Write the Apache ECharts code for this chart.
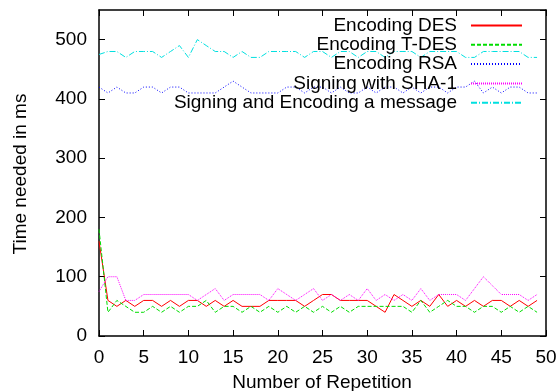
<!DOCTYPE html>
<html>
<head>
<meta charset="utf-8">
<script src="https://cdn.jsdelivr.net/npm/echarts@6/dist/echarts.min.js"></script>
<style>
  html, body { margin: 0; padding: 0; background: #fff; }
  #chart { width: 560px; height: 391px; }
</style>
</head>
<body>
<div id="chart"></div>
<script>
// Repetition index on the x axis
const repetitions = [0, 1, 2, 3, 4, 5, 6, 7, 8, 9, 10, 11, 12, 13, 14, 15, 16, 17, 18, 19,
  20, 21, 22, 23, 24, 25, 26, 27, 28, 29, 30, 31, 32, 33, 34, 35, 36, 37, 38, 39,
  40, 41, 42, 43, 44, 45, 46, 47, 48, 49];

// Measured times in ms for each operation
const desTimes = [160, 60, 50, 60, 50, 60, 60, 50, 60, 50, 60, 60, 50, 60, 50, 60, 50, 50, 50, 60,
  60, 60, 60, 50, 60, 70, 70, 60, 60, 60, 60, 50, 40, 70, 60, 50, 60, 50, 70, 50,
  60, 50, 60, 50, 60, 60, 50, 60, 50, 60];
const tdesTimes = [180, 40, 60, 50, 40, 40, 50, 40, 50, 40, 50, 50, 60, 40, 50, 50, 40, 50, 40, 50,
  40, 50, 40, 50, 40, 50, 40, 50, 40, 50, 50, 50, 50, 50, 50, 40, 60, 40, 50, 60,
  50, 50, 40, 50, 50, 40, 50, 40, 50, 40];
const rsaTimes = [420, 410, 420, 410, 410, 420, 420, 410, 420, 420, 410, 410, 410, 410, 420, 430, 420, 410, 410, 410,
  410, 420, 420, 410, 420, 420, 410, 420, 410, 410, 420, 410, 420, 420, 410, 420, 410, 420, 420, 410,
  420, 420, 430, 410, 420, 410, 420, 420, 410, 410];
const shaTimes = [75, 100, 100, 60, 60, 70, 70, 70, 70, 70, 70, 60, 70, 80, 60, 70, 70, 70, 70, 60,
  80, 70, 60, 70, 80, 60, 70, 60, 70, 60, 80, 60, 70, 60, 70, 60, 80, 60, 70, 70,
  70, 60, 80, 100, 85, 70, 70, 70, 60, 70];
const messageTimes = [475, 480, 480, 470, 480, 480, 480, 470, 480, 490, 470, 500, 490, 480, 480, 470, 480, 470, 470, 480,
  480, 480, 480, 470, 480, 480, 470, 480, 480, 470, 480, 480, 470, 480, 480, 480, 470, 480, 480, 480,
  480, 470, 470, 480, 480, 480, 480, 480, 470, 470];

// Axis ticks
const xTicks = { min: 0, max: 50, step: 5 };
const yTicks = { min: 0, max: 550, step: 100 };

const FONT = '"Liberation Sans", Arial, sans-serif';
const FS = 19;

function pairs(values) {
  return repetitions.map((r, k) => [r, values[k]]);
}

const frame = { show: true, onZero: false, lineStyle: { color: '#000', width: 1.5 } };
const tick = { show: true, inside: true, length: 6, lineStyle: { color: '#000', width: 1 } };

function xAxisDef(position, labels) {
  return {
    type: 'value', position, min: xTicks.min, max: xTicks.max, interval: xTicks.step,
    axisLine: frame, axisTick: tick, splitLine: { show: false },
    axisLabel: { show: labels, color: '#000', fontFamily: FONT, fontSize: FS, margin: 12 }
  };
}
function yAxisDef(position, labels) {
  return {
    type: 'value', position, min: yTicks.min, max: yTicks.max, interval: yTicks.step,
    axisLine: frame, axisTick: tick, splitLine: { show: false },
    axisLabel: {
      show: labels, color: '#000', fontFamily: FONT, fontSize: FS, margin: 12,
      showMaxLabel: false,
      formatter: v => (v % yTicks.step === 0 ? String(v) : '')
    }
  };
}

function lineSeries(name, values, color, type) {
  return {
    name, type: 'line', data: pairs(values), xAxisIndex: 0, yAxisIndex: 0,
    symbol: 'none', showSymbol: false, smooth: false,
    lineStyle: { color, width: 1, type },
    itemStyle: { color }
  };
}

const chart = echarts.init(document.getElementById('chart'), null, { renderer: 'canvas' });
chart.setOption({
  animation: false,
  backgroundColor: '#fff',
  grid: { left: 99, right: 14, top: 10, bottom: 55, containLabel: false },
  xAxis: [xAxisDef('bottom', true), xAxisDef('top', false)],
  yAxis: [yAxisDef('left', true), yAxisDef('right', false)],
  legend: {
    orient: 'vertical',
    align: 'right',
    right: 37,
    top: 16,
    padding: 0,
    itemGap: 0.3,
    itemWidth: 51,
    itemHeight: 14,
    selectedMode: false,
    // keys show only the line sample, no marker
    itemStyle: { opacity: 0 },
    textStyle: { color: '#000', fontFamily: FONT, fontSize: FS, lineHeight: 19, padding: [0, 9, 0, 0] }
  },
  graphic: [
    {
      type: 'text', x: 322, y: 383,
      style: { text: 'Number of Repetition', fontFamily: FONT, fontSize: FS, fill: '#000', align: 'center', verticalAlign: 'middle' }
    },
    {
      type: 'text', x: 21, y: 174, rotation: Math.PI / 2,
      style: { text: 'Time needed in ms', fontFamily: FONT, fontSize: FS, fill: '#000', align: 'center', verticalAlign: 'middle' }
    }
  ],
  series: [
    lineSeries('Encoding DES', desTimes, '#ff0000', 'solid'),
    lineSeries('Encoding T-DES', tdesTimes, '#00dd00', [4, 2]),
    lineSeries('Encoding RSA', rsaTimes, '#0000ff', [1, 2]),
    lineSeries('Signing with SHA-1', shaTimes, '#ff00ff', [1, 1]),
    lineSeries('Signing and Encoding a message', messageTimes, '#00e0e0', [6, 2, 1, 2])
  ]
});
</script>
</body>
</html>
